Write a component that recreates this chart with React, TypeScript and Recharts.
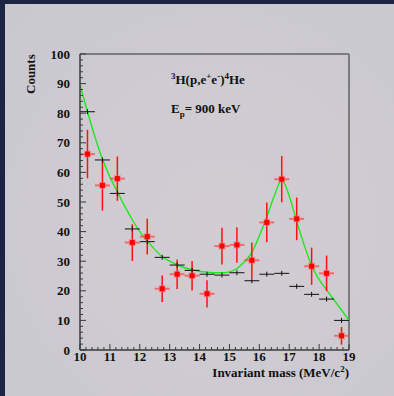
import React from "react";
import { ComposedChart, Line, Scatter, XAxis, YAxis, ErrorBar, ReferenceLine } from "recharts";

// bin centres (MeV/c^2), bin half width 0.25
const binCentres = [10.25, 10.75, 11.25, 11.75, 12.25, 12.75, 13.25, 13.75, 14.25, 14.75, 15.25, 15.75, 16.25, 16.75, 17.25, 17.75, 18.25, 18.75];
const simCounts = [80.5, 64.2, 52.9, 40.9, 36.6, 31.3, 28.7, 26.9, 25.6, 25.3, 26.1, 23.4, 25.6, 25.9, 21.5, 18.8, 17.2, 10.0];
const measCounts = [66.2, 55.6, 57.9, 36.3, 38.3, 20.7, 25.6, 25.1, 19.0, 35.1, 35.5, 30.3, 43.1, 57.7, 44.3, 28.3, 25.9, 4.8];
const measErrors = [8.2, 8.5, 7.5, 6.2, 6.0, 4.5, 5.0, 5.0, 4.6, 6.2, 6.0, 6.0, 6.7, 7.8, 7.2, 6.3, 6.0, 3.0];

// fitted curve (green)
const fitMass = [10, 10.25, 10.5, 10.75, 11, 11.25, 11.5, 11.75, 12, 12.25, 12.5, 12.75, 13, 13.25, 13.5, 13.75, 14, 14.25, 14.5, 14.75, 15, 15.25, 15.5, 15.75, 16, 16.25, 16.5, 16.75, 17, 17.25, 17.5, 17.75, 18, 18.25, 18.5, 18.75, 19];
const fitCounts = [89.5, 80.5, 72, 64.5, 58.5, 53.5, 48.5, 44, 40, 36.8, 34, 31.5, 30, 28.8, 27.8, 27.1, 26.6, 26.3, 26.1, 26.1, 26.4, 27.5, 29.8, 33, 38.5, 45, 52, 57.5, 52, 43.5, 35.5, 28.5, 23.8, 20.3, 16.9, 13.5, 10];

const xLabels = [10, 11, 12, 13, 14, 15, 16, 17, 18, 19];
const yLabels = [0, 10, 20, 30, 40, 50, 60, 70, 80, 90, 100];

const xTicks: number[] = [];
for (let i = 0; i <= 45; i++) xTicks.push(Number((10 + i * 0.2).toFixed(1)));
const yTicks: number[] = [];
for (let i = 0; i <= 50; i++) yTicks.push(i * 2);

const fitData = fitMass.map((x, i) => ({ x, y: fitCounts[i] }));
const simData = binCentres.map((x, i) => ({ x, y: simCounts[i], ex: 0.25 }));
const measData = binCentres.map((x, i) => ({ x, y: measCounts[i], ex: 0.25, ey: measErrors[i] }));

const FONT = '"Liberation Serif", "Times New Roman", serif';
const AXIS = "#3a3a3a";

const XTick = (props: any) => {
  const { x, y, payload } = props;
  const v = payload.value;
  const major = xLabels.includes(v);
  return (
    <g>
      <line x1={x} x2={x} y1={y} y2={y - (major ? 6 : 3)} stroke={AXIS} strokeWidth={1} />
      {major && (
        <text x={x} y={y + 11} textAnchor="middle" fontFamily={FONT} fontWeight="bold" fontSize={13} fill="#111">
          {v}
        </text>
      )}
    </g>
  );
};

const YTick = (props: any) => {
  const { x, y, payload } = props;
  const v = payload.value;
  const major = yLabels.includes(v);
  return (
    <g>
      <line x1={x} x2={x + (major ? 6 : 3)} y1={y} y2={y} stroke={AXIS} strokeWidth={1} />
      {major && (
        <text x={x - 10} y={y + 4.5} textAnchor="end" fontFamily={FONT} fontWeight="bold" fontSize={13} fill="#111">
          {v}
        </text>
      )}
    </g>
  );
};

const RedMark = (props: any) => {
  const { cx, cy } = props;
  return (
    <g>
      <rect x={cx - 3.5} y={cy - 3.5} width={7} height={7} fill="#ff6060" fillOpacity={0.45} />
      <rect x={cx - 2.5} y={cy - 2.5} width={5} height={5} fill="#ff0000" />
    </g>
  );
};

const BlackMark = (props: any) => {
  const { cx, cy } = props;
  return <line x1={cx} x2={cx} y1={cy - 2.5} y2={cy + 2.5} stroke="#111" strokeWidth={1} />;
};

const txt: React.CSSProperties = {
  position: "absolute",
  fontFamily: FONT,
  fontWeight: "bold",
  fontSize: 13,
  lineHeight: "13px",
  color: "#111",
  whiteSpace: "nowrap",
};
const sup: React.CSSProperties = { fontSize: 9, verticalAlign: 5, lineHeight: "0" };
const sub: React.CSSProperties = { fontSize: 9, verticalAlign: -4, lineHeight: "0" };

export default function App() {
  return (
    <div style={{ position: "fixed", left: 0, top: 0, width: 394, height: 396, background: "#1d2342", overflow: "hidden" }}>
      <div
        style={{
          position: "absolute",
          left: 5,
          top: 4,
          right: 0,
          bottom: 0,
          background: "radial-gradient(ellipse at 55% 55%, #d3ccd3 0%, #cdcbd1 55%, #c9c8ce 100%)",
        }}
      />
      <div style={{ position: "absolute", left: 0, top: 0 }}>
        <ComposedChart width={394} height={396} data={fitData} margin={{ top: 54, right: 45, bottom: 16, left: 30 }}>
          <XAxis
            type="number"
            dataKey="x"
            domain={[10, 19]}
            ticks={xTicks}
            interval={0}
            tickSize={0}
            tickMargin={0}
            tickLine={false}
            tick={<XTick />}
            height={30}
            axisLine={{ stroke: AXIS, strokeWidth: 1.5 }}
            allowDataOverflow
          />
          <YAxis
            type="number"
            domain={[0, 100]}
            ticks={yTicks}
            interval={0}
            tickSize={0}
            tickMargin={0}
            tickLine={false}
            tick={<YTick />}
            width={50}
            axisLine={{ stroke: AXIS, strokeWidth: 1.5 }}
            allowDataOverflow
          />
          <ReferenceLine y={100} stroke="#7c7c7c" strokeWidth={2} />
          <ReferenceLine x={19} stroke="#7c7c7c" strokeWidth={2} />
          <Line type="monotone" dataKey="y" stroke="#1ee81e" strokeWidth={1.4} dot={false} isAnimationActive={false} />
          <Scatter data={simData} dataKey="y" shape={<BlackMark />} isAnimationActive={false}>
            <ErrorBar dataKey="ex" direction="x" width={0} stroke="#111" strokeWidth={1} />
          </Scatter>
          <Scatter data={measData} dataKey="y" shape={<RedMark />} isAnimationActive={false}>
            <ErrorBar dataKey="ex" direction="x" width={0} stroke="#ff4040" strokeOpacity={0.7} strokeWidth={2} />
            <ErrorBar dataKey="ey" direction="y" width={0} stroke="#ff1010" strokeWidth={1.5} />
          </Scatter>
        </ComposedChart>
      </div>
      <div style={{ ...txt, left: 171, top: 73 }}>
        <span style={sup}>3</span>H(p,e<span style={sup}>+</span>e<span style={sup}>-</span>)<span style={sup}>4</span>He
      </div>
      <div style={{ ...txt, left: 171, top: 102 }}>
        E<span style={sub}>p</span>= 900 keV
      </div>
      <div style={{ ...txt, right: 394 - 349, top: 366 }}>
        Invariant mass (MeV/c<span style={sup}>2</span>)
      </div>
      <div style={{ ...txt, left: 24, top: 94, transformOrigin: "0 0", transform: "rotate(-90deg)" }}>Counts</div>
    </div>
  );
}
